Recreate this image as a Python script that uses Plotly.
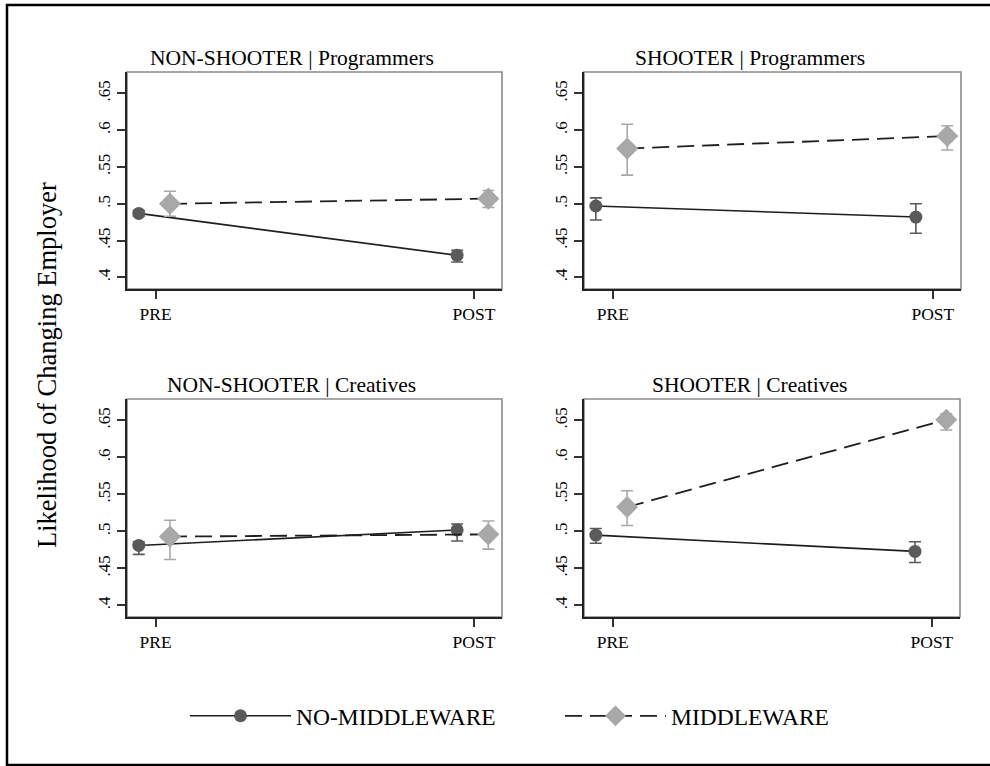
import plotly.graph_objects as go
from plotly.subplots import make_subplots

# ---------------- data ----------------
periods = ["PRE", "POST"]
panel_titles = ["NON-SHOOTER | Programmers", "SHOOTER | Programmers",
                "NON-SHOOTER | Creatives", "SHOOTER | Creatives"]
series_names = ["NO-MIDDLEWARE", "MIDDLEWARE"]

# per panel: [PRE, POST]
nomw_mean = [[0.487, 0.430], [0.497, 0.482], [0.481, 0.502], [0.495, 0.473]]
nomw_lo = [[0.483, 0.421], [0.478, 0.460], [0.469, 0.487], [0.484, 0.458]]
nomw_hi = [[0.491, 0.437], [0.508, 0.500], [0.486, 0.510], [0.504, 0.486]]

mw_mean = [[0.500, 0.507], [0.575, 0.592], [0.493, 0.496], [0.533, 0.651]]
mw_lo = [[0.483, 0.495], [0.539, 0.573], [0.462, 0.476], [0.508, 0.637]]
mw_hi = [[0.517, 0.518], [0.608, 0.606], [0.515, 0.514], [0.555, 0.659]]

y_tickvals = [0.4, 0.45, 0.5, 0.55, 0.6, 0.65]
y_ticktext = [".4", ".45", ".5", ".55", ".6", ".65"]

# ---------------- style ----------------
FONT = "Liberation Serif"
W, H = 990, 766
C_NOMW = "#5a5a5a"
C_MW = "#a8a8a8"
NOMW_OFF = -0.053
MW_OFF = 0.045

# panel pixel boxes (left, right, top, bottom)
boxes = [(127, 502, 72, 289), (584, 961, 72, 289),
         (127, 502, 399, 617), (584, 960, 399, 617)]

fig = make_subplots(rows=2, cols=2)

axis_ids = ["", "2", "3", "4"]
base_x = [0, 1]

for i in range(4):
    r, c = i // 2 + 1, i % 2 + 1
    xs_n = [b + NOMW_OFF for b in base_x]
    xs_m = [b + MW_OFF for b in base_x]
    fig.add_trace(go.Scatter(
        x=xs_n, y=nomw_mean[i], mode="lines+markers", name=series_names[0],
        legendgroup="n", showlegend=(i == 0),
        line=dict(color="#1e1e1e", width=1.6),
        marker=dict(symbol="circle", size=13, color=C_NOMW),
        error_y=dict(type="data", symmetric=False,
                     array=[h - m for h, m in zip(nomw_hi[i], nomw_mean[i])],
                     arrayminus=[m - l for l, m in zip(nomw_lo[i], nomw_mean[i])],
                     color=C_NOMW, thickness=1.6, width=6),
    ), row=r, col=c)
    fig.add_trace(go.Scatter(
        x=xs_m, y=mw_mean[i], mode="lines+markers", name=series_names[1],
        legendgroup="m", showlegend=(i == 0),
        line=dict(color="#1e1e1e", width=1.8, dash="17px,8px"),
        marker=dict(symbol="diamond", size=17, color=C_MW),
        error_y=dict(type="data", symmetric=False,
                     array=[h - m for h, m in zip(mw_hi[i], mw_mean[i])],
                     arrayminus=[m - l for l, m in zip(mw_lo[i], mw_mean[i])],
                     color=C_MW, thickness=1.6, width=6),
    ), row=r, col=c)

for i, (l, rr, t, b) in enumerate(boxes):
    sfx = axis_ids[i]
    fig.update_layout(**{
        f"xaxis{sfx}": dict(
            domain=[l / W, rr / W], range=[-0.09, 1.088],
            tickvals=base_x, ticktext=periods, ticks="outside", ticklen=8,
            tickcolor="#333", tickwidth=1.5, showgrid=False, zeroline=False,
            showline=True, linecolor="#222", linewidth=2,
            tickfont=dict(family=FONT, size=17.5, color="black"),
        ),
        f"yaxis{sfx}": dict(
            domain=[1 - b / H, 1 - t / H], range=[0.3843, 0.679],
            tickvals=y_tickvals, ticktext=y_ticktext, ticks="outside", ticklen=8,
            tickcolor="#333", tickwidth=1.5, tickangle=-90,
            showgrid=False, zeroline=False,
            showline=True, linecolor="#222", linewidth=2,
            tickfont=dict(family=FONT, size=17, color="black"),
        ),
    })
    xr = "x" + sfx + " domain"
    yr = "y" + sfx + " domain"
    fig.add_shape(type="rect", xref=xr, yref=yr, x0=0, x1=1, y0=0, y1=1,
                  line=dict(color="#8a8a8a", width=1.6), layer="below")
    # panel title
    cx = ((l + rr) / 2 - 23) / W
    cy = 1 - (t - 14) / H
    fig.add_annotation(text=panel_titles[i], xref="paper", yref="paper",
                       x=cx, y=cy, xanchor="center", yanchor="middle",
                       showarrow=False,
                       font=dict(family=FONT, size=21.5, color="black"))

# y axis title
fig.add_annotation(text="Likelihood of Changing Employer", xref="paper", yref="paper",
                   x=47 / W, y=1 - 365 / H, textangle=-90, showarrow=False,
                   xanchor="center", yanchor="middle",
                   font=dict(family=FONT, size=26.5, color="black"))

# outer frame
fig.add_shape(type="rect", xref="paper", yref="paper",
              x0=7 / W, x1=1.05, y0=1 - 765 / H, y1=1 - 5 / H,
              line=dict(color="black", width=2.5))

fig.update_layout(
    width=W, height=H,
    margin=dict(l=0, r=0, t=0, b=0),
    paper_bgcolor="white", plot_bgcolor="white",
    font=dict(family=FONT, color="black"),
    legend=dict(orientation="h", x=185 / W, y=1 - 716 / H,
                xanchor="left", yanchor="middle",
                itemwidth=101, entrywidth=259,
                font=dict(family=FONT, size=23.5, color="black"),
                bgcolor="rgba(0,0,0,0)"),
)

fig.write_html("out.html", config={"displayModeBar": False},
               post_script="document.body.style.margin='0';document.body.style.overflow='hidden';")
